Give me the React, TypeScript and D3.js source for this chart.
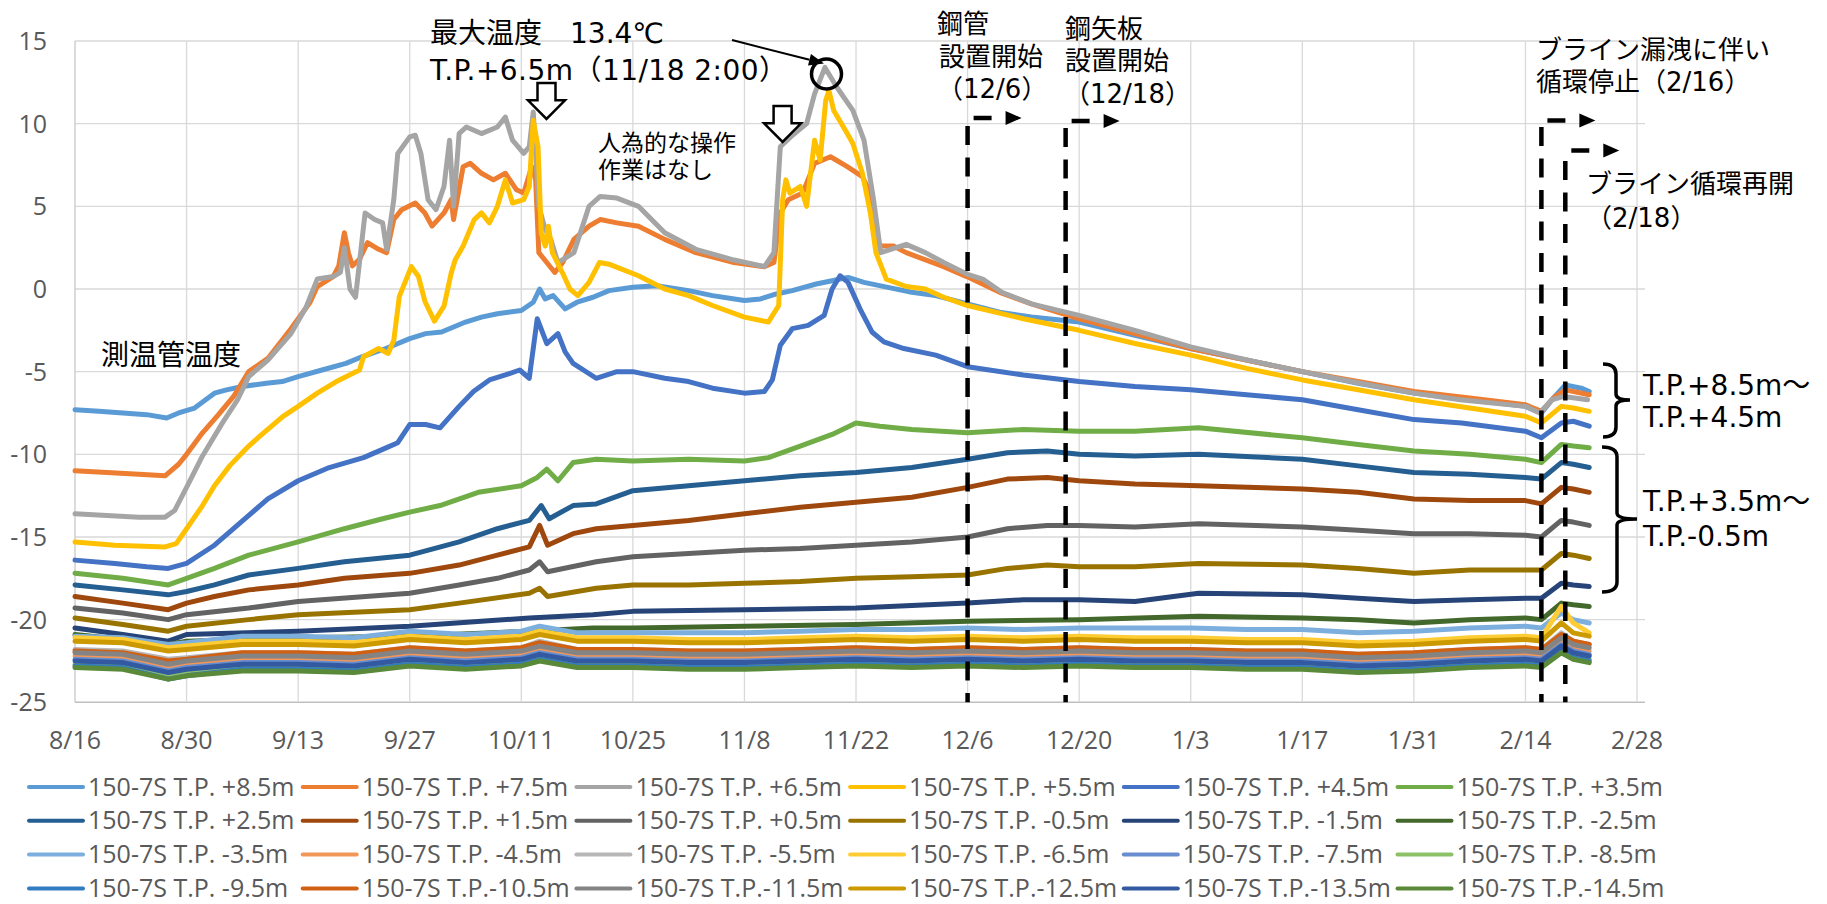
import React from "react";
import * as d3 from "d3";

// ---------- data ----------
const DAY = 864e5;
const T0 = Date.UTC(2022, 7, 16);
const toDate = (d: number) => new Date(T0 + d * DAY);

const yTicks = [-25, -20, -15, -10, -5, 0, 5, 10, 15];
const xTickDays = [0, 14, 28, 42, 56, 70, 84, 98, 112, 126, 140, 154, 168, 182, 196];

const p85: [number, number][] = [[0,-7.3],[3,-7.4],[6,-7.5],[9,-7.6],[11.5,-7.8],[13,-7.5],[15,-7.2],[17.5,-6.3],[19,-6.1],[21,-5.9],[24,-5.7],[26,-5.6],[28,-5.3],[31,-4.9],[34,-4.5],[36,-4.1],[39,-3.6],[42,-3.0],[44,-2.7],[46,-2.6],[49,-2.0],[51,-1.7],[53,-1.5],[56,-1.3],[57.5,-0.8],[58.3,0.0],[59,-0.6],[60,-0.4],[61.5,-1.2],[63,-0.8],[65,-0.5],[67,-0.1],[70,0.1],[73,0.2],[77,-0.1],[80,-0.4],[84,-0.7],[86,-0.6],[88,-0.3],[90,-0.1],[93,0.3],[95,0.5],[97,0.7],[99,0.4],[102,0.1],[105,-0.2],[108,-0.4],[112,-0.9],[116,-1.4],[120,-1.7],[126,-2.0],[133,-2.8],[140,-3.6],[147,-4.3],[154,-5.0],[161,-5.7],[168,-6.3],[175,-6.7],[182,-7.1],[184,-7.5],[185.5,-6.6],[187,-5.8],[189,-6.0],[190,-6.2]];
const p75: [number, number][] = [[0,-11.0],[4,-11.1],[8,-11.2],[11.3,-11.3],[13,-10.6],[14,-10.0],[16,-8.7],[18,-7.6],[19.9,-6.5],[21.8,-5.0],[24.2,-4.2],[27.1,-2.4],[29.5,-0.8],[30.4,0.15],[32.4,0.75],[33.1,1.4],[33.8,3.4],[34.3,2.2],[34.8,1.4],[35.7,1.8],[36.7,2.8],[38.1,2.4],[39.1,2.2],[40,4.2],[41,4.8],[42.7,5.2],[43.9,4.6],[44.8,3.8],[46.3,4.6],[47.2,5.4],[47.5,4.2],[48.7,7.4],[49.6,7.6],[51,7.0],[52.5,6.6],[54,7.0],[55.4,6.0],[56.3,5.8],[57.3,7.4],[57.8,6.6],[58.2,2.2],[59.2,1.6],[60.2,1.0],[61.2,1.6],[62.6,3.0],[64.5,3.8],[65.9,4.2],[68,4.0],[70.7,3.8],[74,3.0],[77.9,2.2],[82.7,1.6],[86.5,1.35],[87.7,1.6],[88.5,4.6],[89.5,5.4],[91.3,5.8],[92.8,7.6],[94.8,8.0],[96.9,7.4],[98.8,6.8],[99.8,5.8],[100.8,2.6],[102.7,2.6],[104.3,2.2],[109,1.35],[111.9,0.75],[116.3,-0.25],[120,-0.9],[126,-1.8],[133,-2.7],[140,-3.6],[147,-4.3],[154,-5.0],[161,-5.6],[168,-6.2],[175,-6.6],[182,-7.0],[184,-7.4],[185.5,-6.6],[187,-6.1],[190,-6.4]];
const p65: [number, number][] = [[0,-13.6],[4,-13.7],[8,-13.8],[11.3,-13.8],[12.5,-13.4],[14,-12.0],[16,-10.1],[18.5,-8.1],[20.4,-6.7],[21.8,-5.3],[24.2,-4.3],[27.1,-2.7],[29,-1.1],[30.4,0.6],[32.4,0.75],[33.3,1.0],[33.8,2.5],[34.5,0.0],[35.2,-0.5],[36.4,4.6],[37.6,4.2],[38.6,4.0],[39.1,2.4],[40,5.4],[40.5,8.2],[42,9.2],[42.7,9.3],[43.4,8.2],[44.3,5.4],[45.3,4.8],[46.3,6.2],[47,9.0],[47.5,5.0],[48.2,9.4],[49.1,9.8],[51,9.4],[53,9.8],[54,10.4],[54.9,9.0],[56.3,8.2],[57,8.6],[57.5,10.7],[58.2,5.0],[59,3.6],[59.7,3.0],[60.6,1.6],[62.6,2.2],[64.5,5.0],[65.9,5.6],[68,5.5],[70.7,5.0],[74,3.4],[77.9,2.4],[82.7,1.75],[86.5,1.35],[87.7,2.2],[88.5,8.6],[89.8,9.2],[91.8,10.0],[92.8,11.8],[94.1,13.4],[95.6,12.2],[97.6,10.8],[99,9.0],[100.2,5.4],[101.1,2.2],[104.3,2.7],[106.7,2.2],[109,1.6],[111.9,0.9],[113.9,0.6],[116.3,-0.2],[120,-0.9],[126,-1.6],[133,-2.5],[140,-3.5],[146.2,-4.2],[154,-5.0],[161.3,-5.7],[168,-6.3],[173.8,-6.7],[182,-7.1],[183.8,-7.5],[185.3,-6.7],[186.8,-6.5],[189.8,-6.7]];
const p55: [number, number][] = [[0,-15.3],[5,-15.5],[11.3,-15.6],[12.7,-15.4],[14,-14.5],[16,-13.1],[17.5,-11.9],[19.4,-10.7],[21.8,-9.5],[23.2,-8.9],[26.1,-7.7],[28,-7.1],[30.4,-6.3],[32.8,-5.6],[35.7,-4.9],[36.2,-4.1],[38.1,-3.6],[39.3,-3.9],[40,-3.1],[40.7,-0.45],[42.2,1.35],[43.1,0.75],[43.9,-0.74],[45.1,-1.94],[46.3,-1.04],[47.2,0.95],[47.7,1.75],[48.7,2.6],[50.1,4.2],[51,4.6],[52,4.0],[53,5.0],[54,6.6],[54.9,5.2],[56.3,5.4],[57,6.2],[57.5,10.2],[58.1,8.6],[58.5,3.4],[59,2.6],[59.4,3.8],[59.9,2.2],[61.2,0.95],[62.1,0.0],[63.1,-0.4],[64.5,0.4],[65.8,1.6],[67,1.5],[70.7,0.8],[74,0.0],[77,-0.4],[80,-1.0],[84,-1.7],[87,-2.0],[88.3,-1.0],[88.8,5.4],[89.2,6.6],[89.7,5.8],[91,6.2],[91.8,5.0],[92.8,9.0],[93.5,7.8],[94.2,11.4],[94.6,12.0],[95.2,10.8],[96.9,9.4],[97.6,8.8],[98.8,7.0],[99.8,4.6],[100.5,2.2],[101.8,0.6],[104.3,0.15],[106.7,0.0],[109,-0.5],[112,-1.0],[119,-1.8],[126,-2.5],[133,-3.3],[140,-4.0],[147,-4.8],[154,-5.5],[161,-6.1],[168,-6.7],[175,-7.2],[182,-7.7],[184,-8.1],[186.5,-7.1],[188,-7.2],[190,-7.4]];
const p45: [number, number][] = [[0,-16.4],[5,-16.6],[9,-16.8],[11.7,-16.9],[14,-16.6],[17.5,-15.5],[21.3,-13.9],[24.2,-12.7],[28,-11.6],[31.9,-10.8],[36.2,-10.2],[38.6,-9.7],[40.5,-9.3],[42,-8.2],[44,-8.2],[45.8,-8.4],[48.2,-7.1],[50,-6.2],[52,-5.5],[54,-5.2],[55.8,-4.9],[57,-5.4],[58,-1.8],[59.2,-3.3],[60.6,-2.7],[61.5,-3.8],[62.5,-4.5],[65.4,-5.4],[68,-5.0],[70,-5.0],[74,-5.4],[77,-5.6],[80,-6.0],[84,-6.3],[86.5,-6.2],[87.5,-5.5],[88.5,-3.4],[90,-2.4],[92,-2.2],[94,-1.6],[95,0.0],[96,0.8],[97,0.4],[98.5,-1.2],[100,-2.6],[101.5,-3.2],[104,-3.6],[108,-4.0],[112,-4.7],[119,-5.2],[126,-5.6],[133,-5.9],[140,-6.1],[147,-6.4],[154,-6.7],[161,-7.3],[168,-7.9],[174,-8.1],[182,-8.6],[184,-9.0],[186.5,-8.1],[188,-8.0],[190,-8.3]];
const p35: [number, number][] = [[0,-17.2],[6,-17.5],[11.7,-17.9],[14,-17.5],[17.5,-16.9],[21.8,-16.1],[28,-15.3],[33.8,-14.5],[38.6,-13.9],[42,-13.5],[45.8,-13.1],[50.6,-12.3],[56,-11.9],[58,-11.4],[59.2,-10.9],[60.6,-11.6],[62.5,-10.5],[65.4,-10.3],[70,-10.4],[77,-10.3],[84,-10.4],[87,-10.2],[91,-9.5],[95,-8.8],[98,-8.1],[101,-8.3],[105,-8.5],[112,-8.7],[119,-8.5],[126,-8.6],[133,-8.6],[141,-8.4],[154,-9.0],[161,-9.4],[168,-9.8],[175,-10.0],[182,-10.3],[184,-10.5],[186.5,-9.4],[188,-9.5],[190,-9.6]];
const p25: [number, number][] = [[0,-17.9],[6,-18.2],[11.7,-18.5],[14,-18.3],[17.5,-17.9],[21.8,-17.3],[28,-16.9],[33.8,-16.5],[42,-16.1],[48.2,-15.3],[53,-14.5],[57,-14.0],[58.5,-13.1],[59.5,-13.9],[62.5,-13.1],[65.4,-13.0],[70,-12.2],[77,-11.9],[84,-11.6],[91,-11.3],[98,-11.1],[105,-10.8],[112,-10.3],[117,-9.9],[122,-9.8],[126,-10.0],[133,-10.1],[141,-10.0],[154,-10.3],[161,-10.7],[168,-11.1],[175,-11.2],[182,-11.4],[184,-11.5],[186.5,-10.5],[188,-10.6],[190,-10.8]];
const p15: [number, number][] = [[0,-18.6],[6,-19.0],[11.7,-19.4],[14,-19.0],[17.5,-18.6],[21.8,-18.2],[28,-17.9],[33.8,-17.5],[42,-17.2],[48.2,-16.7],[53,-16.1],[57,-15.6],[58.3,-14.3],[59.3,-15.5],[62.5,-14.8],[65.4,-14.5],[70,-14.3],[77,-14.0],[84,-13.6],[91,-13.2],[98,-12.9],[105,-12.6],[112,-12.0],[117,-11.5],[122,-11.4],[126,-11.6],[133,-11.8],[141,-11.9],[154,-12.1],[161,-12.3],[168,-12.7],[175,-12.8],[182,-12.8],[184,-13.0],[186.5,-12.0],[188,-12.1],[190,-12.3]];
const p05: [number, number][] = [[0,-19.3],[6,-19.6],[11.7,-20.0],[14,-19.7],[21.8,-19.3],[28,-18.9],[42,-18.4],[48.2,-17.9],[53,-17.5],[57,-17.0],[58.3,-16.5],[59.3,-17.1],[65.4,-16.5],[70,-16.2],[77,-16.0],[84,-15.8],[91,-15.7],[98,-15.5],[105,-15.3],[112,-15.0],[117,-14.5],[122,-14.3],[126,-14.3],[133,-14.4],[141,-14.2],[154,-14.4],[161,-14.6],[168,-14.8],[175,-14.8],[182,-14.9],[184,-15.0],[186.5,-14.0],[188,-14.1],[190,-14.3]];
const m05: [number, number][] = [[0,-19.9],[6,-20.3],[11.7,-20.7],[14,-20.4],[21.8,-20.0],[28,-19.7],[42,-19.4],[48.2,-19.0],[57,-18.4],[58.3,-18.1],[59.3,-18.6],[65.4,-18.1],[70,-17.9],[77,-17.9],[84,-17.8],[91,-17.7],[98,-17.5],[105,-17.4],[112,-17.3],[117,-16.9],[122,-16.7],[126,-16.8],[133,-16.8],[141,-16.6],[154,-16.7],[161,-16.9],[168,-17.2],[175,-17.0],[182,-17.0],[184,-17.0],[186.5,-16.0],[188,-16.1],[190,-16.3]];
const m15: [number, number][] = [[0,-20.5],[6,-20.9],[11.7,-21.3],[14,-20.9],[28,-20.7],[42,-20.4],[57,-19.9],[65,-19.7],[70,-19.5],[84,-19.4],[98,-19.3],[112,-19.0],[119,-18.8],[126,-18.8],[133,-18.9],[141,-18.4],[154,-18.5],[161,-18.7],[168,-18.9],[175,-18.8],[182,-18.7],[184,-18.7],[186.5,-17.8],[188,-17.9],[190,-18.0]];
const m25: [number, number][] = [[0,-20.9],[6,-21.2],[11.7,-21.5],[14,-21.3],[28,-21.1],[42,-21.0],[57,-20.7],[65,-20.5],[70,-20.5],[84,-20.4],[98,-20.3],[112,-20.1],[126,-20.0],[141,-19.8],[154,-19.9],[161,-20.0],[168,-20.2],[175,-20.0],[182,-19.9],[184,-20.0],[186.5,-19.0],[188,-19.1],[190,-19.2]];

// lower cluster, shared sampling days
const lowDays = [0,6,11.7,14,21,28,35,42,49,56,58.3,63,70,77,84,91,98,105,112,119,126,133,140,147,154,161,168,175,182,184,186.5,188,190];
const m35 = [-21.0,-21.1,-21.5,-21.4,-21.0,-21.0,-21.1,-20.7,-20.9,-20.7,-20.4,-20.8,-20.8,-20.8,-20.8,-20.7,-20.6,-20.6,-20.5,-20.6,-20.5,-20.5,-20.5,-20.6,-20.6,-20.8,-20.7,-20.5,-20.4,-20.5,-19.6,-20.0,-20.2];
const m45 = [-22.2,-22.3,-22.9,-22.7,-22.4,-22.4,-22.5,-22.1,-22.3,-22.1,-21.8,-22.2,-22.2,-22.3,-22.3,-22.2,-22.1,-22.2,-22.1,-22.2,-22.1,-22.2,-22.2,-22.3,-22.3,-22.5,-22.4,-22.2,-22.1,-22.2,-21.4,-21.7,-21.9];
const m55 = [-21.8,-21.9,-22.4,-22.3,-22.0,-22.0,-22.1,-21.7,-21.9,-21.7,-21.3,-21.8,-21.8,-21.9,-21.9,-21.8,-21.7,-21.8,-21.7,-21.8,-21.7,-21.8,-21.8,-21.9,-21.9,-22.1,-22.0,-21.8,-21.7,-21.8,-20.8,-21.3,-21.5];
const m65 = [-21.1,-21.2,-21.7,-21.6,-21.3,-21.3,-21.4,-21.0,-21.2,-21.0,-20.7,-21.1,-21.1,-21.2,-21.2,-21.1,-21.0,-21.1,-21.0,-21.1,-21.0,-21.1,-21.1,-21.2,-21.2,-21.4,-21.3,-21.1,-21.0,-21.1,-19.2,-20.2,-20.8];
const m75 = [-22.4,-22.5,-23.1,-22.9,-22.6,-22.6,-22.7,-22.3,-22.5,-22.3,-22.0,-22.4,-22.4,-22.5,-22.5,-22.4,-22.3,-22.4,-22.3,-22.4,-22.3,-22.4,-22.4,-22.5,-22.5,-22.7,-22.6,-22.4,-22.3,-22.4,-21.5,-21.9,-22.1];
const m85 = [-22.7,-22.8,-23.4,-23.2,-22.9,-22.9,-23.0,-22.6,-22.8,-22.6,-22.3,-22.7,-22.7,-22.8,-22.8,-22.7,-22.6,-22.7,-22.6,-22.7,-22.6,-22.7,-22.7,-22.8,-22.8,-23.0,-22.9,-22.7,-22.6,-22.7,-21.8,-22.2,-22.4];
const m95 = [-22.8,-22.9,-23.6,-23.4,-23.0,-23.0,-23.1,-22.7,-22.9,-22.7,-22.4,-22.8,-22.8,-22.9,-22.9,-22.8,-22.7,-22.8,-22.7,-22.8,-22.7,-22.8,-22.8,-22.9,-22.9,-23.1,-23.0,-22.8,-22.7,-22.8,-21.9,-22.3,-22.5];
const m105 = [-21.9,-22.0,-22.5,-22.4,-22.0,-22.0,-22.1,-21.7,-21.9,-21.7,-21.4,-21.8,-21.8,-21.9,-21.9,-21.8,-21.7,-21.8,-21.7,-21.8,-21.7,-21.8,-21.8,-21.9,-21.9,-22.1,-22.0,-21.8,-21.7,-21.8,-20.9,-21.3,-21.5];
const m115 = [-22.0,-22.1,-22.7,-22.5,-22.2,-22.2,-22.3,-21.9,-22.1,-21.9,-21.6,-22.0,-22.0,-22.1,-22.1,-22.0,-21.9,-22.0,-21.9,-22.0,-21.9,-22.0,-22.0,-22.1,-22.1,-22.3,-22.2,-22.0,-21.9,-22.0,-21.1,-21.5,-21.7];
const m125 = [-21.3,-21.4,-21.9,-21.8,-21.5,-21.5,-21.6,-21.2,-21.4,-21.2,-20.9,-21.3,-21.3,-21.4,-21.4,-21.3,-21.2,-21.3,-21.2,-21.3,-21.2,-21.3,-21.3,-21.4,-21.4,-21.6,-21.5,-21.3,-21.2,-21.3,-20.2,-20.8,-21.0];
const m135 = [-22.5,-22.6,-23.2,-23.0,-22.7,-22.7,-22.8,-22.4,-22.6,-22.4,-22.1,-22.5,-22.5,-22.6,-22.6,-22.5,-22.4,-22.5,-22.4,-22.5,-22.4,-22.5,-22.5,-22.6,-22.6,-22.8,-22.7,-22.5,-22.4,-22.5,-21.6,-22.0,-22.2];
const m145 = [-22.9,-23.0,-23.6,-23.4,-23.1,-23.1,-23.2,-22.8,-23.0,-22.8,-22.5,-22.9,-22.9,-23.0,-23.0,-22.9,-22.8,-22.9,-22.8,-22.9,-22.8,-22.9,-22.9,-23.0,-23.0,-23.2,-23.1,-22.9,-22.8,-22.9,-22.0,-22.4,-22.6];

const seriesNames = [
  "150-7S T.P. +8.5m","150-7S T.P. +7.5m","150-7S T.P. +6.5m","150-7S T.P. +5.5m","150-7S T.P. +4.5m","150-7S T.P. +3.5m",
  "150-7S T.P. +2.5m","150-7S T.P. +1.5m","150-7S T.P. +0.5m","150-7S T.P. -0.5m","150-7S T.P. -1.5m","150-7S T.P. -2.5m",
  "150-7S T.P. -3.5m","150-7S T.P. -4.5m","150-7S T.P. -5.5m","150-7S T.P. -6.5m","150-7S T.P. -7.5m","150-7S T.P. -8.5m",
  "150-7S T.P. -9.5m","150-7S T.P.-10.5m","150-7S T.P.-11.5m","150-7S T.P.-12.5m","150-7S T.P.-13.5m","150-7S T.P.-14.5m",
];
const seriesColors = [
  "#5B9BD5","#ED7D31","#A5A5A5","#FFC000","#4472C4","#70AD47",
  "#255E91","#9E480E","#636363","#997300","#264478","#43682B",
  "#7CAFDD","#F1975A","#B7B7B7","#FFCD33","#698ED0","#8CC168",
  "#327DC2","#D26012","#848484","#CC9A00","#335AA1","#5A8A39",
];
const zipLow = (vals: number[]) => lowDays.map((d, i) => [d, vals[i]] as [number, number]);
const seriesData: [number, number][][] = [
  p85, p75, p65, p55, p45, p35, p25, p15, p05, m05, m15, m25,
  zipLow(m35), zipLow(m45), zipLow(m55), zipLow(m65), zipLow(m75), zipLow(m85),
  zipLow(m95), zipLow(m105), zipLow(m115), zipLow(m125), zipLow(m135), zipLow(m145),
];

// event lines (day offsets from 8/16), top y of dashed line, arrow y
const eventDays = [112, 124.3, 184, 187];
const eventTop = [126, 128, 127, 161];
const eventArrowY = [118, 121, 120.5, 150.5];

// ---------- layout ----------
const W = 1827, H = 904;
const PL = 75, PR = 1645, PT = 41, PB = 702.3;
const MIX = "'DejaVu Sans', 'Noto Sans CJK JP', sans-serif";
const TICK = "'Open Sans', 'Noto Sans CJK JP', sans-serif";

export default function App() {
  const x = d3.scaleUtc().domain([toDate(0), toDate(197)]).range([PL, PR]);
  const y = d3.scaleLinear().domain([-25, 15]).range([PB, PT]);
  const fmt = d3.utcFormat("%-m/%-d");
  const line = d3.line<[number, number]>()
    .x((d) => x(toDate(d[0])))
    .y((d) => y(d[1]))
    .curve(d3.curveLinear);

  // arrow to max point
  const a0 = [732, 40], a1 = [824, 63.5];
  const dx = a1[0] - a0[0], dy = a1[1] - a0[1];
  const len = Math.hypot(dx, dy);
  const ux = dx / len, uy = dy / len;
  const hb = [a1[0] - 15 * ux, a1[1] - 15 * uy];
  const head = `${a1[0]},${a1[1]} ${hb[0] - 6 * uy},${hb[1] + 6 * ux} ${hb[0] + 6 * uy},${hb[1] - 6 * ux}`;

  const downArrow = (cx: number, top: number, h: number) => {
    const sw = 9, hw = 18.5, sh = h * 0.48;
    return `M${cx - sw},${top} L${cx + sw},${top} L${cx + sw},${top + sh} L${cx + hw},${top + sh} L${cx},${top + h} L${cx - hw},${top + sh} L${cx - sw},${top + sh} Z`;
  };

  return (
    <svg width={W} height={H} style={{ position: "absolute", left: 0, top: 0, display: "block", background: "#fff" }}>
      {/* grid */}
      {yTicks.map((t) => (
        <line key={"h" + t} x1={PL} x2={PR} y1={y(t)} y2={y(t)} stroke={t === -25 ? "#BFBFBF" : "#D9D9D9"} strokeWidth={t === -25 ? 1.6 : 1.3} />
      ))}
      {xTickDays.map((d) => (
        <line key={"v" + d} x1={x(toDate(d))} x2={x(toDate(d))} y1={PT} y2={PB} stroke={d === 0 ? "#C8C8C8" : "#D9D9D9"} strokeWidth={1.3} />
      ))}
      {/* y ticks */}
      {yTicks.map((t) => (
        <text key={"yt" + t} x={47} y={y(t) + 9} textAnchor="end" fontFamily={TICK} fontSize={25} fill="#595959">{t}</text>
      ))}
      {/* x ticks */}
      {xTickDays.map((d) => (
        <text key={"xt" + d} x={x(toDate(d))} y={749} textAnchor="middle" fontFamily={TICK} fontSize={25} fill="#595959">{fmt(toDate(d))}</text>
      ))}
      {/* series */}
      {seriesData.map((s, i) => (
        <path key={"s" + i} d={line(s) || ""} fill="none" stroke={seriesColors[i]} strokeWidth={5} strokeLinejoin="round" strokeLinecap="round" />
      ))}
      {/* event dashed lines and arrows */}
      {eventDays.map((d, i) => {
        const ex = x(toDate(d));
        const ay = eventArrowY[i];
        return (
          <g key={"ev" + i}>
            <line x1={ex} x2={ex} y1={eventTop[i]} y2={PB} stroke="#000" strokeWidth={4.5} strokeDasharray="19 12.5" />
            <line x1={ex + 6} x2={ex + 40} y1={ay} y2={ay} stroke="#000" strokeWidth={4.5} strokeDasharray="18 40" />
            <polygon points={`${ex + 38},${ay - 7} ${ex + 54},${ay} ${ex + 38},${ay + 7}`} fill="#000" />
          </g>
        );
      })}
      {/* max marker */}
      <circle cx={826.5} cy={74} r={15} fill="none" stroke="#000" strokeWidth={3.5} />
      <line x1={a0[0]} y1={a0[1]} x2={hb[0]} y2={hb[1]} stroke="#000" strokeWidth={2} />
      <polygon points={head} fill="#000" />
      {/* hollow down arrows */}
      <path d={downArrow(546.5, 83, 36)} fill="#fff" stroke="#000" strokeWidth={2.5} strokeLinejoin="miter" />
      <path d={downArrow(782.6, 106, 36)} fill="#fff" stroke="#000" strokeWidth={2.5} strokeLinejoin="miter" />
      {/* annotations */}
      <text x={430} y={43} fontFamily={MIX} fontSize={28} fill="#000">最大温度　13.4℃</text>
      <text x={430} y={80} fontFamily={MIX} fontSize={28} fill="#000" textLength={357} lengthAdjust="spacing">T.P.+6.5m（11/18 2:00）</text>
      <text x={598} y={151} fontFamily={MIX} fontSize={23} fill="#000">人為的な操作</text>
      <text x={598} y={178} fontFamily={MIX} fontSize={23} fill="#000">作業はなし</text>
      <text x={937} y={33} fontFamily={MIX} fontSize={26} fill="#000">鋼管</text>
      <text x={939} y={66} fontFamily={MIX} fontSize={26} fill="#000">設置開始</text>
      <text x={937} y={98} fontFamily={MIX} fontSize={26} fill="#000">（12/6）</text>
      <text x={1065} y={38} fontFamily={MIX} fontSize={26} fill="#000">鋼矢板</text>
      <text x={1065} y={70} fontFamily={MIX} fontSize={26} fill="#000">設置開始</text>
      <text x={1064} y={103} fontFamily={MIX} fontSize={26} fill="#000">（12/18）</text>
      <text x={1536} y={59} fontFamily={MIX} fontSize={26} fill="#000">ブライン漏洩に伴い</text>
      <text x={1536} y={91} fontFamily={MIX} fontSize={26} fill="#000">循環停止（2/16）</text>
      <text x={1586} y={193} fontFamily={MIX} fontSize={26} fill="#000">ブライン循環再開</text>
      <text x={1586} y={227} fontFamily={MIX} fontSize={26} fill="#000">（2/18）</text>
      <text x={101} y={365} fontFamily={MIX} fontSize={28} fill="#000">測温管温度</text>
      {/* brackets */}
      <path d="M1603,364 Q1616,364 1616,374 L1616,394 Q1616,400 1630,400 Q1616,400 1616,406 L1616,427 Q1616,437 1603,437" fill="none" stroke="#000" strokeWidth={3.5} />
      <path d="M1602,447 Q1617,447 1617,457 L1617,513 Q1617,519 1637,519 Q1617,519 1617,525 L1617,582 Q1617,592 1602,592" fill="none" stroke="#000" strokeWidth={3.5} />
      <text x={1643} y={395} fontFamily={MIX} fontSize={28} fill="#000">T.P.+8.5m～</text>
      <text x={1643} y={427} fontFamily={MIX} fontSize={28} fill="#000">T.P.+4.5m</text>
      <text x={1643} y={511} fontFamily={MIX} fontSize={28} fill="#000">T.P.+3.5m～</text>
      <text x={1643} y={546} fontFamily={MIX} fontSize={28} fill="#000">T.P.-0.5m</text>
      {/* legend */}
      {seriesNames.map((n, i) => {
        const col = i % 6, row = Math.floor(i / 6);
        const lx = 29 + col * 273.7;
        const ly = 787 + row * 33.8;
        return (
          <g key={"lg" + i}>
            <line x1={lx} x2={lx + 54} y1={ly} y2={ly} stroke={seriesColors[i]} strokeWidth={4} strokeLinecap="round" />
            <text x={lx + 59} y={ly + 8.6} fontFamily={TICK} fontSize={25} fill="#595959">{n}</text>
          </g>
        );
      })}
    </svg>
  );
}
